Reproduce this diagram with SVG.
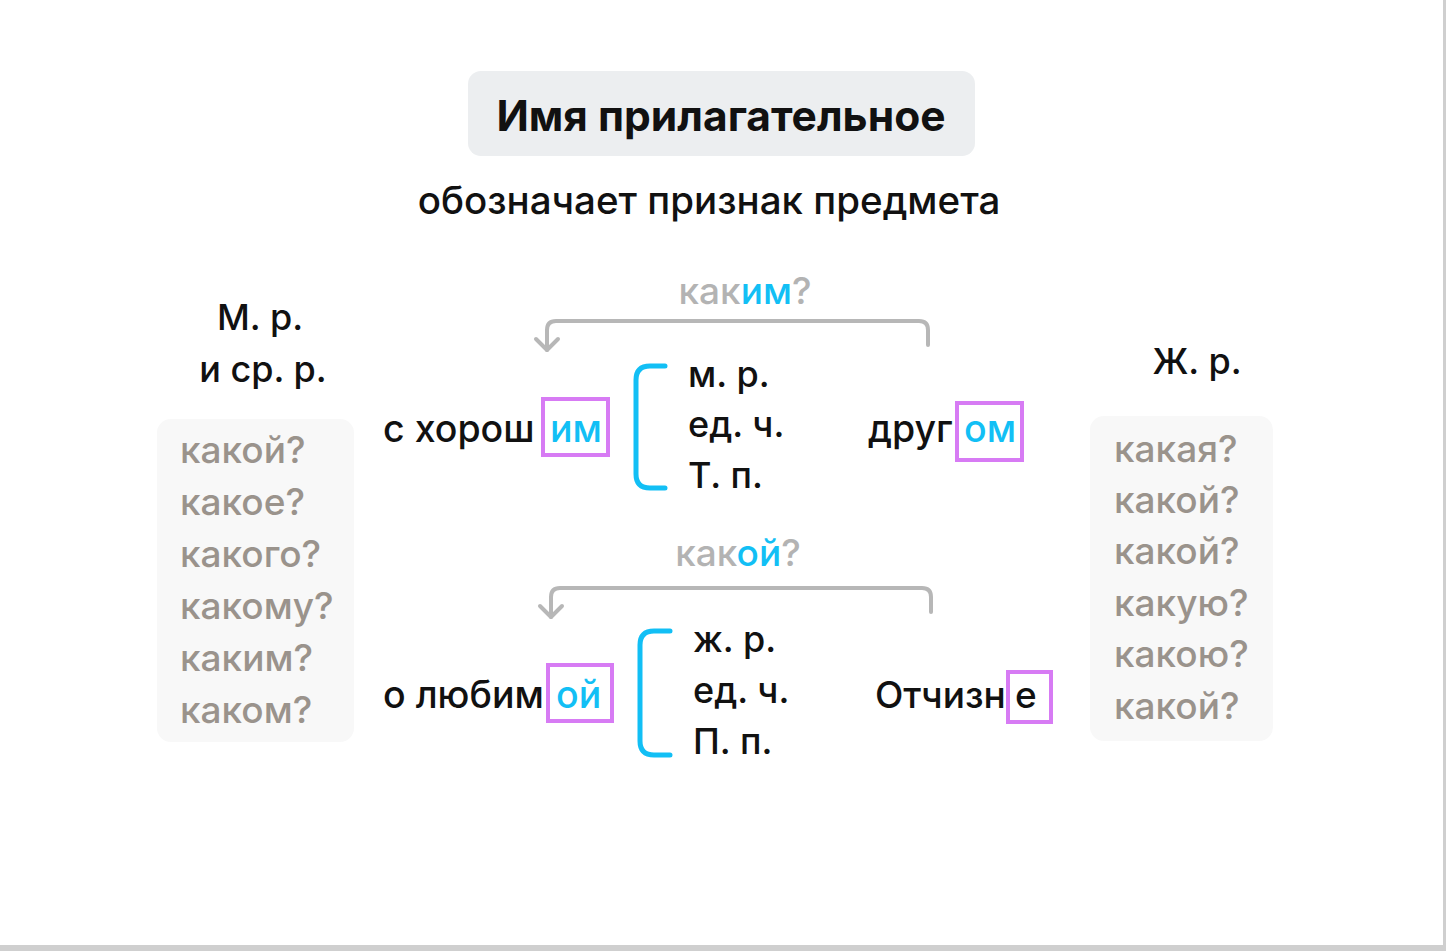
<svg xmlns="http://www.w3.org/2000/svg" width="1446" height="951" viewBox="0 0 1446 951">
<defs>
<style>
.t{font-family:Inter,"Noto Sans",sans-serif;font-weight:500;fill:#111}
.q{font-family:Inter,"Noto Sans",sans-serif;font-weight:500;fill:#9a938c;font-size:37px}
.c{fill:#12bff5}
.g{fill:#b3b3b3}
.box{fill:none;stroke:#d77bf4;stroke-width:4}
.br{fill:none;stroke:#12bff5;stroke-width:5;stroke-linecap:round}
.con{fill:none;stroke:#b7b7b7;stroke-width:4;stroke-linecap:round;stroke-linejoin:round}
</style>
</defs>
<rect width="1446" height="951" fill="#ffffff"/>
<rect x="1443" y="0" width="3" height="951" fill="#cfcfcf"/>
<rect x="0" y="945" width="1446" height="6" fill="#cfcfcf"/>

<g id="title">
<rect x="468" y="71" width="507" height="85" rx="13" fill="#eceef0"/>
<text class="t" x="721" y="131" font-size="42.5" text-anchor="middle" style="font-weight:700">Имя прилагательное</text>
</g>
<g id="subtitle">
<text class="t" x="709" y="214" font-size="38.5" text-anchor="middle">обозначает признак предмета</text>
</g>

<g id="masc-header">
<text class="t" x="260" y="330" font-size="36" text-anchor="middle">М. р.</text>
<text class="t" x="263" y="382" font-size="36" text-anchor="middle">и ср. р.</text>
</g>
<g id="masc-questions">
<rect x="157" y="419" width="197" height="323" rx="14" fill="#f8f8f8"/>
<text class="q" x="180" y="463">какой?</text>
<text class="q" x="180" y="515">какое?</text>
<text class="q" x="180" y="567">какого?</text>
<text class="q" x="180" y="619">какому?</text>
<text class="q" x="180" y="671">каким?</text>
<text class="q" x="180" y="723">каком?</text>
</g>

<g id="fem-header">
<text class="t" x="1197" y="374" font-size="36" text-anchor="middle">Ж. р.</text>
</g>
<g id="fem-questions">
<rect x="1090" y="416" width="183" height="325" rx="14" fill="#f8f8f8"/>
<text class="q" x="1114" y="462">какая?</text>
<text class="q" x="1114" y="513">какой?</text>
<text class="q" x="1114" y="564">какой?</text>
<text class="q" x="1114" y="616">какую?</text>
<text class="q" x="1114" y="667">какою?</text>
<text class="q" x="1114" y="719">какой?</text>
</g>

<g id="connectors">
<path class="con" d="M928 345 V330 Q928 321 919 321 H556 Q547 321 547 330 V350"/>
<path class="con" d="M536 339 L547 350 L558 339"/>
<path class="con" d="M931 612 V597 Q931 588 922 588 H560 Q551 588 551 597 V617"/>
<path class="con" d="M540 606 L551 617 L562 606"/>
</g>

<g id="q-upper">
<text class="t" x="745" y="304" font-size="37" text-anchor="middle"><tspan class="g">как</tspan><tspan class="c">им</tspan><tspan class="g">?</tspan></text>
</g>
<g id="phrase1-left">
<text class="t" x="383" y="442" font-size="37.5">с хорош<tspan class="c" x="550">им</tspan></text>
<rect class="box" x="543" y="399" width="65" height="56"/>
</g>
<g id="bracket1">
<path class="br" d="M665 366 H650 Q636 366 636 380 V474 Q636 488 650 488 H665"/>
<text class="t" x="688" y="387" font-size="36">м. р.</text>
<text class="t" x="688" y="437" font-size="36">ед. ч.</text>
<text class="t" x="688" y="488" font-size="36">Т. п.</text>
</g>
<g id="phrase1-right">
<text class="t" x="868" y="442" font-size="37.5">друг<tspan class="c" x="964">ом</tspan></text>
<rect class="box" x="957" y="403" width="65" height="57"/>
</g>

<g id="q-lower">
<text class="t" x="738" y="566" font-size="37" text-anchor="middle"><tspan class="g">как</tspan><tspan class="c">ой</tspan><tspan class="g">?</tspan></text>
</g>
<g id="phrase2-left">
<text class="t" x="383" y="708" font-size="37.5">о любим<tspan class="c" x="556">ой</tspan></text>
<rect class="box" x="548" y="665" width="64" height="56"/>
</g>
<g id="bracket2">
<path class="br" d="M670 631 H654 Q640 631 640 645 V741 Q640 755 654 755 H670"/>
<text class="t" x="693" y="652" font-size="36">ж. р.</text>
<text class="t" x="693" y="703" font-size="36">ед. ч.</text>
<text class="t" x="693" y="754" font-size="36">П. п.</text>
</g>
<g id="phrase2-right">
<text class="t" x="875" y="708" font-size="37">Отчизн<tspan x="1015">е</tspan></text>
<rect class="box" x="1008" y="672" width="43" height="50"/>
</g>
</svg>
